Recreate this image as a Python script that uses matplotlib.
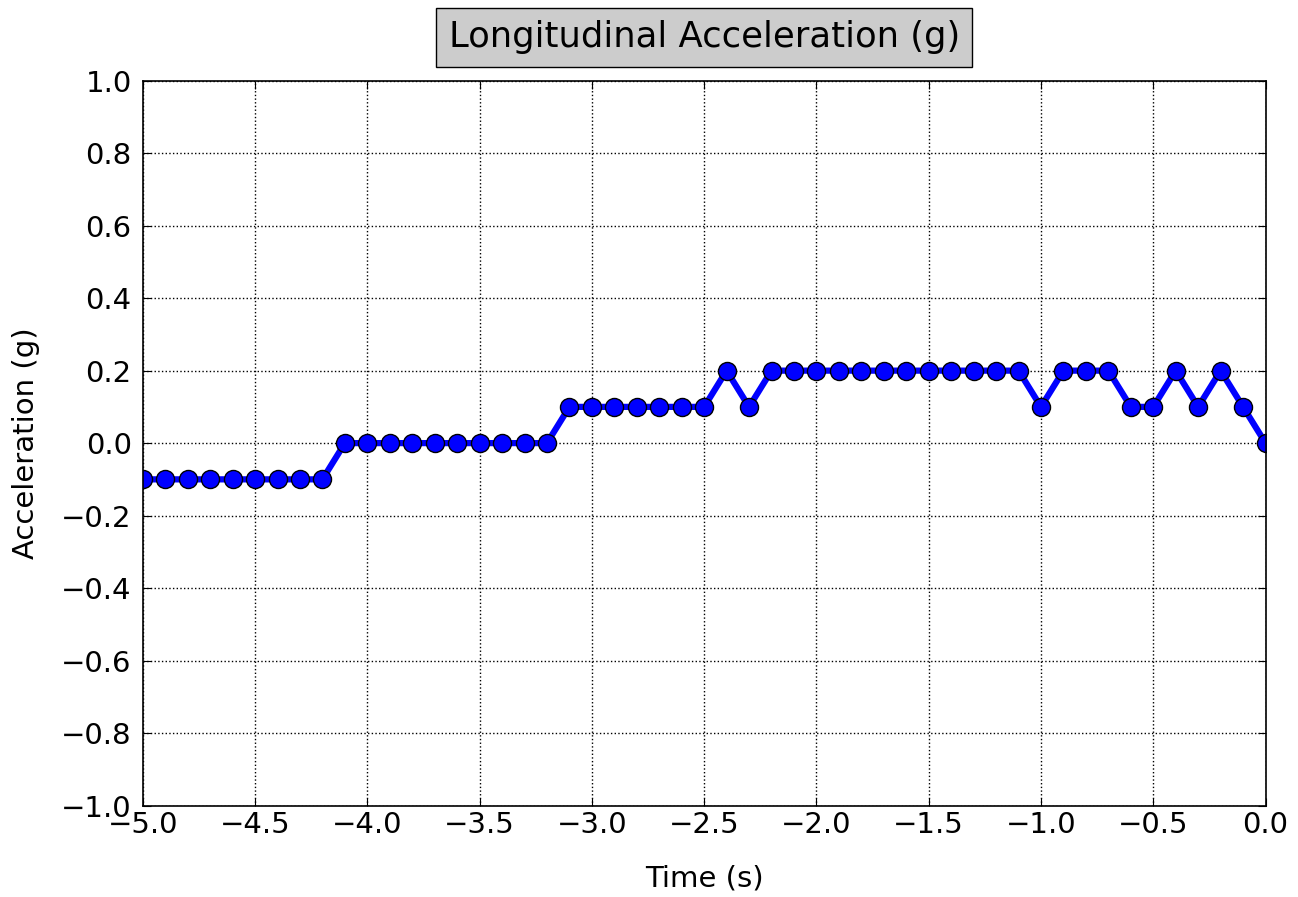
import matplotlib
matplotlib.use('Agg')
import matplotlib.pyplot as plt
import numpy as np

# time axis (s) and longitudinal acceleration (g)
time_s = np.round(np.arange(-5.0, 0.01, 0.1), 1)
accel_g = [-0.1] * 9 + [0.0] * 10 + [0.1] * 7 + [0.2, 0.1] + [0.2] * 12 + \
          [0.1, 0.2, 0.2, 0.2, 0.1, 0.1, 0.2, 0.1, 0.2, 0.1, 0.0]

x_ticks = np.round(np.linspace(-5.0, 0.0, 11), 1)
y_ticks = np.round(np.linspace(-1.0, 1.0, 11), 1)


def fmt(v, pos):
    s = '%.1f' % v
    if s == '-0.0':
        s = '0.0'
    return s.replace('-', '\u2212')


plt.rcParams['font.family'] = 'DejaVu Sans'
fig, ax = plt.subplots(figsize=(12.98, 8.97), dpi=100)
fig.subplots_adjust(left=0.11, right=0.975, top=0.91, bottom=0.102)

ax.plot(time_s, accel_g, 'o-', color='blue', linewidth=4.5, markersize=13,
        markeredgecolor='black', markeredgewidth=1)

ax.set_xlim(-5.0, 0.0)
ax.set_ylim(-1.0, 1.0)
ax.set_xticks(x_ticks)
ax.set_yticks(y_ticks)
ax.xaxis.set_major_formatter(matplotlib.ticker.FuncFormatter(fmt))
ax.yaxis.set_major_formatter(matplotlib.ticker.FuncFormatter(fmt))
ax.tick_params(direction='in', top=True, right=True, labelsize=21, length=6)
ax.tick_params(axis='x', pad=4)
ax.tick_params(axis='y', pad=8)
ax.grid(True, color='black', linestyle=':', linewidth=1)
for s in ax.spines.values():
    s.set_linewidth(1.2)

ax.set_xlabel('Time (s)', fontsize=21, labelpad=18)
ax.set_ylabel('Acceleration (g)', fontsize=21, labelpad=15)
ax.set_title('Longitudinal Acceleration (g)', fontsize=25.5, pad=24,
             bbox=dict(facecolor='0.8', edgecolor='black', pad=9))

fig.savefig('out.png', dpi=100)
